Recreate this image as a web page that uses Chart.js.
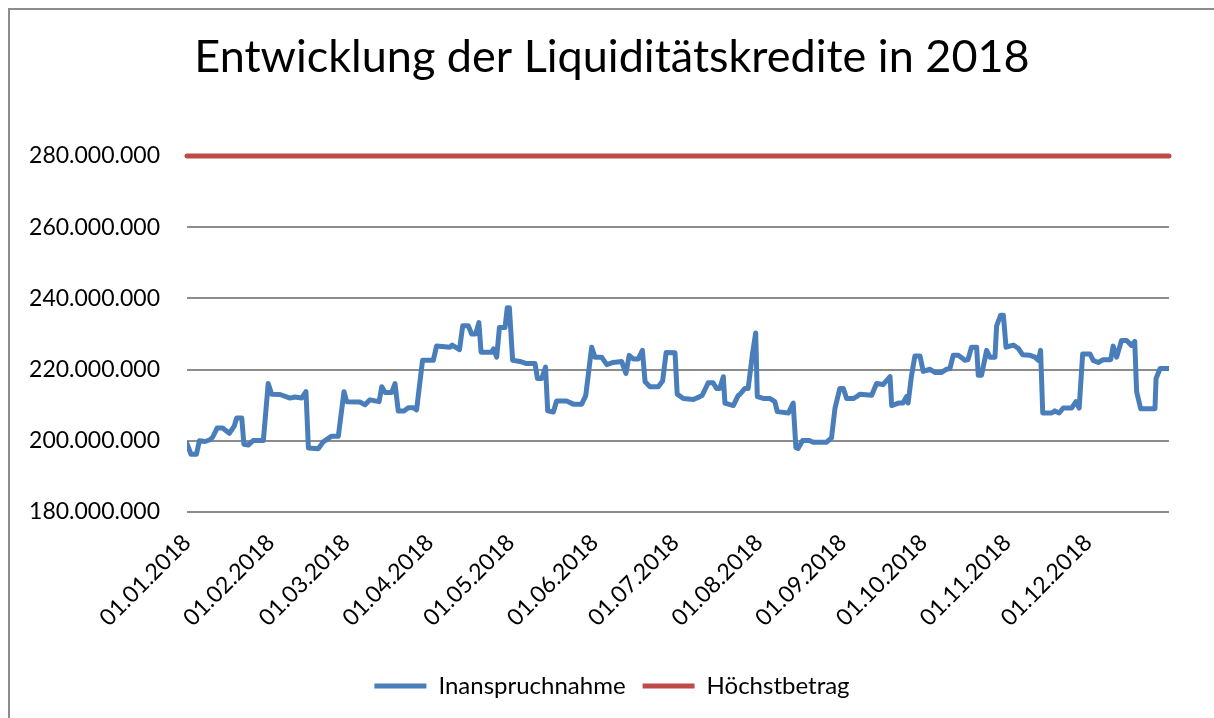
<!DOCTYPE html>
<html>
<head>
<meta charset="utf-8">
<script src="https://cdn.jsdelivr.net/npm/chart.js@4.4.1/dist/chart.umd.min.js"></script>
<style>
  html, body { margin: 0; padding: 0; background: #fff; overflow: hidden; }
  #frame { position: absolute; left: 8px; top: 8px; width: 1220px; height: 730px; border: 2px solid #8c8c8c; }
  #wrap { position: absolute; left: 10px; top: 10px; width: 1204px; height: 708px; }
</style>
</head>
<body>
<div id="frame"></div>
<div id="wrap"><canvas id="c"></canvas></div>
<script>
// Tag im Jahr (0 = 01.01.2018) und Inanspruchnahme in Mio. EUR
const DAYS = [
  0, 1.5, 3.5, 4.6, 6.7, 8.5, 9.5, 11.2, 13.2, 15.7, 17.5, 18.4, 20.3, 21.1, 22.7, 24.6, 28.3, 30.1,
  31.4, 34.5, 38.2, 40, 42.5, 44.1, 45, 48.7, 50.5, 53.6, 56.1, 58.2,
  59.2, 64.1, 66, 67.8, 71.2, 72.2, 73.4, 75.9, 77.1, 78.3, 80.5, 82, 83.9, 85.1, 87.3,
  91.3, 92.5, 97.5, 98.3, 101, 102.2, 104.3, 105.5, 107, 108.2, 109, 112.9, 113.6, 114.8, 115.8, 117.9, 118.7, 119.5,
  120.7, 123.4, 125.9, 129, 129.9, 131.5, 132.9, 133.7, 135.8, 137, 140.7, 143.2, 146.3, 147.8, 150,
  151.2, 153.7, 155.6, 158, 161.1, 162.7, 163.9, 165.4, 167.3, 168.8, 169.8, 171.6, 174.7, 176.3, 177.6, 180.9,
  181.7, 184, 187.7, 190.1, 191, 193.2, 195, 196.3, 197.5, 198.8, 199.4, 202.5, 204.3, 205, 206.8, 208, 209.7, 210.8,
  211.4, 213.6, 216, 217.9, 218.8, 222.9, 224.7, 225.7, 226.5, 228.2, 230.7, 232.1, 237.1, 238.9, 240.2, 242,
  243.3, 244.5, 247, 248.2, 249.4, 253.8, 255.6, 258, 260.6, 261.2, 263.7, 265.4, 266.7, 267.3, 268.5, 269.8, 271.7,
  272.9, 275.4, 277.2, 279.7, 281.6, 282.8, 284, 285.9, 288.4, 289.5, 290.8, 292.7, 293.3, 294.5, 296.4, 297.6, 299.5, 300.1, 301.6, 302.6,
  303.6, 306.3, 308.1, 309.7, 312.5, 314.3, 315.6, 316.4, 317.2, 320.5, 321.7, 323.3, 324.8, 327.9, 329.5, 330.7, 332,
  334.7, 335.9, 337.8, 339.6, 342.4, 343.3, 344.6, 346.4, 348.3, 350.1, 351.3, 352, 353.5, 358.8, 359.2, 360.7, 364
];
const INANSPRUCHNAHME = [
  199.2, 196.2, 196.2, 200.0, 199.8, 200.3, 201.0, 203.6, 203.6, 202.1, 204.1, 206.4, 206.4, 199.0, 198.8, 200.1, 200.1, 216.1,
  213.1, 213.0, 212.0, 212.3, 212.0, 213.8, 198.0, 197.8, 199.7, 201.3, 201.3, 213.8,
  211.0, 210.9, 210.1, 211.5, 211.0, 215.2, 213.6, 213.6, 216.1, 208.4, 208.4, 209.3, 209.3, 208.7, 222.6,
  222.6, 226.6, 226.3, 226.9, 225.6, 232.3, 232.3, 230.0, 230.0, 233.2, 224.9, 224.9, 225.8, 223.5, 231.8, 231.8, 237.4, 237.4,
  222.6, 222.3, 221.7, 221.7, 217.5, 217.5, 220.7, 208.4, 208.1, 211.2, 211.2, 210.3, 210.3, 212.7, 226.3,
  223.5, 223.5, 221.4, 222.0, 222.3, 218.9, 224.0, 223.0, 223.0, 225.4, 216.6, 215.2, 215.2, 216.8, 224.8, 224.7,
  213.1, 211.9, 211.6, 212.4, 212.8, 216.3, 216.3, 214.7, 214.7, 218.0, 210.6, 209.9, 212.7, 213.1, 214.7, 214.7, 224.9, 230.3,
  212.4, 211.9, 211.9, 211.0, 208.2, 207.8, 210.6, 198.1, 197.8, 200.1, 200.1, 199.6, 199.6, 200.8, 209.2, 214.7,
  214.7, 211.9, 211.9, 212.4, 213.1, 212.8, 216.1, 215.8, 218.0, 209.9, 210.6, 210.6, 212.4, 210.6, 218.0, 223.8, 223.8,
  219.5, 220.1, 219.2, 219.2, 220.1, 220.3, 224.0, 224.0, 222.6, 222.8, 226.3, 226.3, 218.4, 218.4, 225.4, 223.5, 223.5, 232.3, 235.3, 235.3,
  226.3, 226.9, 226.0, 224.2, 224.0, 223.5, 222.6, 225.4, 207.8, 207.8, 208.4, 207.8, 209.2, 209.2, 211.0, 209.2, 224.4,
  224.4, 222.6, 222.0, 222.8, 222.8, 226.6, 223.5, 228.2, 228.2, 226.8, 227.9, 213.8, 209.0, 209.0, 217.5, 220.3, 220.3
];
const HOECHST_DAYS = [0, 364];
const HOECHSTBETRAG = [280, 280];

const MONTH_DAYS = [0, 31, 59, 90, 120, 151, 181, 212, 243, 273, 304, 334];
const MONTH_LABELS = [
  "01.01.2018", "01.02.2018", "01.03.2018", "01.04.2018", "01.05.2018", "01.06.2018",
  "01.07.2018", "01.08.2018", "01.09.2018", "01.10.2018", "01.11.2018", "01.12.2018"
];
const Y_TICKS = [180, 200, 220, 240, 260, 280];

const FONT = "Lato, 'Open Sans', sans-serif";
const BLUE = "#4a7ebb";
const RED = "#be4b48";

function toPoints(xs, ys) { return xs.map((x, i) => ({ x, y: ys[i] })); }
function fmtMio(v) { return v + ".000.000"; }

new Chart(document.getElementById("c"), {
  type: "line",
  data: {
    datasets: [
      { label: "Inanspruchnahme", data: toPoints(DAYS, INANSPRUCHNAHME), borderColor: BLUE, backgroundColor: BLUE,
        borderWidth: 5, pointRadius: 0, borderCapStyle: "round", borderJoinStyle: "round", tension: 0 },
      { label: "Höchstbetrag", data: toPoints(HOECHST_DAYS, HOECHSTBETRAG), borderColor: RED, backgroundColor: RED,
        borderWidth: 5, pointRadius: 0, borderCapStyle: "round", clip: false },
    ],
  },
  options: {
    responsive: true,
    maintainAspectRatio: false,
    animation: false,
    layout: { padding: { left: 0, right: 0, top: 0, bottom: 10 } },
    scales: {
      x: {
        type: "linear", min: 0, max: 364,
        afterBuildTicks: (s) => { s.ticks = MONTH_DAYS.map((d) => ({ value: d })); },
        afterFit: (s) => { s.height = 145; },
        ticks: {
          autoSkip: false, minRotation: 45, maxRotation: 45, padding: 17, color: "#000",
          font: { family: FONT, size: 23 },
          callback: (v) => MONTH_LABELS[MONTH_DAYS.indexOf(v)] || "",
        },
        grid: { display: false, drawTicks: false },
        border: { display: false },
      },
      y: {
        min: 180, max: 280,
        afterBuildTicks: (s) => { s.ticks = Y_TICKS.map((v) => ({ value: v })); },
        afterFit: (s) => { s.width = 177; },
        ticks: { padding: 27, color: "#000", font: { family: FONT, size: 23 }, callback: (v) => fmtMio(v) },
        grid: { color: "#8c8c8c", lineWidth: 2, drawTicks: false },
        border: { display: false },
      },
      // empty right margin, keeps title and legend centred on the whole frame
      spacer: {
        position: "right", min: 0, max: 1,
        afterFit: (s) => { s.width = 45; },
        ticks: { display: false },
        grid: { display: false, drawTicks: false },
        border: { display: false },
      },
    },
    plugins: {
      title: {
        display: true, text: "Entwicklung der Liquiditätskredite in 2018", color: "#000",
        font: { family: FONT, size: 45, weight: "normal" }, padding: { top: 20, bottom: 72 },
      },
      legend: {
        position: "bottom",
        labels: {
          color: "#000", font: { family: FONT, size: 24 }, usePointStyle: true, pointStyle: "line",
          pointStyleWidth: 52, boxWidth: 38, padding: 17,
        },
      },
      tooltip: { enabled: false },
    },
  },
});
</script>
</body>
</html>
